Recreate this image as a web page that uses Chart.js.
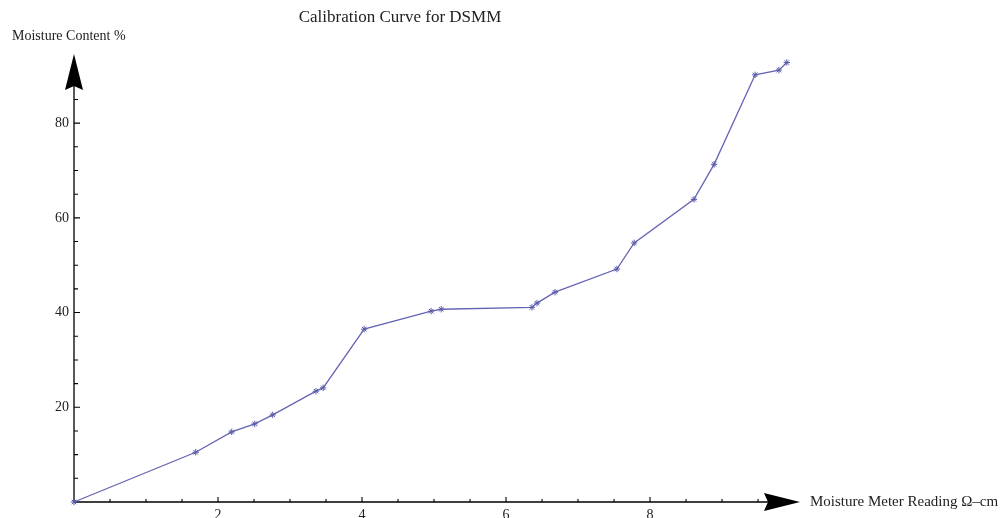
<!DOCTYPE html>
<html>
<head>
<meta charset="utf-8">
<script src="https://cdn.jsdelivr.net/npm/chart.js@4"></script>
<style>
  html, body { margin: 0; padding: 0; background: #ffffff; }
  #wrap { width: 1005px; height: 518px; position: relative; }
</style>
</head>
<body>
<div id="wrap"><canvas id="c" width="1005" height="518"></canvas></div>
<script>
// ---- data ----
const meterReading = [0, 1.69, 2.19, 2.51, 2.76, 3.36, 3.46, 4.03, 4.96, 5.10, 6.36, 6.43, 6.68, 7.54, 7.78, 8.61, 8.89, 9.46, 9.79, 9.90];
const moistureContent = [0, 10.5, 14.8, 16.5, 18.4, 23.4, 24.1, 36.5, 40.3, 40.7, 41.1, 42.0, 44.3, 49.2, 54.7, 63.9, 71.3, 90.2, 91.2, 92.8];
const xTickLabels = [2, 4, 6, 8];
const yTickLabels = [20, 40, 60, 80];
const titleText = "Calibration Curve for DSMM";
const xAxisTitle = "Moisture Meter Reading \u03A9\u2013cm";
const yAxisTitle = "Moisture Content %";

const points = meterReading.map((x, i) => ({ x: x, y: moistureContent[i] }));
const serif = "'Liberation Serif', 'Times New Roman', serif";

const axesPlugin = {
  id: 'mathAxes',
  beforeDatasetsDraw(chart) {
    const ctx = chart.ctx;
    const xs = chart.scales.x, ys = chart.scales.y;
    const x0 = xs.getPixelForValue(0), y0 = ys.getPixelForValue(0);
    const xEnd = xs.getPixelForValue(xs.max), yEnd = ys.getPixelForValue(ys.max);
    ctx.save();
    ctx.strokeStyle = '#000';
    ctx.fillStyle = '#000';
    ctx.lineWidth = 1.3;
    // axis lines
    ctx.beginPath();
    ctx.moveTo(x0, y0); ctx.lineTo(xEnd - 30, y0);
    ctx.moveTo(x0, y0); ctx.lineTo(x0, yEnd + 30);
    ctx.stroke();
    // ticks
    ctx.lineWidth = 1.1;
    ctx.beginPath();
    for (let v = 5; v <= 85; v += 5) {
      const p = ys.getPixelForValue(v);
      const len = (v % 20 === 0) ? 6 : 4;
      ctx.moveTo(x0, p); ctx.lineTo(x0 + len, p);
    }
    for (let v = 0.5; v <= 9.5; v += 0.5) {
      const p = xs.getPixelForValue(v);
      const len = (v % 2 === 0) ? 5 : 3;
      ctx.moveTo(p, y0); ctx.lineTo(p, y0 - len);
    }
    ctx.stroke();
    // arrows
    ctx.beginPath();
    ctx.moveTo(xEnd, y0);
    ctx.lineTo(xEnd - 36, y0 - 9);
    ctx.lineTo(xEnd - 32, y0);
    ctx.lineTo(xEnd - 36, y0 + 9);
    ctx.closePath();
    ctx.fill();
    ctx.beginPath();
    ctx.moveTo(x0, yEnd);
    ctx.lineTo(x0 - 9, yEnd + 36);
    ctx.lineTo(x0, yEnd + 32);
    ctx.lineTo(x0 + 9, yEnd + 36);
    ctx.closePath();
    ctx.fill();
    // texts
    ctx.fillStyle = '#222';
    ctx.textBaseline = 'alphabetic';
    ctx.font = '17px ' + serif;
    ctx.textAlign = 'center';
    ctx.fillText(titleText, 400, 22);
    ctx.font = '14px ' + serif;
    ctx.textAlign = 'left';
    ctx.fillText(yAxisTitle, 12, 40);
    ctx.font = '15px ' + serif;
    ctx.fillText(xAxisTitle, 810, 506);
    ctx.restore();
  }
};

new Chart(document.getElementById('c'), {
  type: 'scatter',
  data: {
    datasets: [{
      data: points,
      showLine: true,
      borderColor: '#6464b4',
      borderWidth: 1.3,
      pointStyle: 'star',
      pointRadius: 3.2,
      pointBorderWidth: 1,
      pointBorderColor: '#5a5aaa',
      pointBackgroundColor: '#5a5aaa',
      tension: 0,
      clip: false
    }]
  },
  options: {
    responsive: false,
    animation: false,
    events: [],
    layout: { padding: { left: 0, right: 205, top: 54, bottom: 0 } },
    plugins: { legend: { display: false }, tooltip: { enabled: false }, title: { display: false } },
    scales: {
      x: {
        type: 'linear', min: 0, max: 10.083,
        grid: { display: false, drawTicks: false },
        border: { display: false },
        ticks: {
          stepSize: 2, padding: 5, maxRotation: 0, autoSkip: false,
          color: '#222', font: { family: serif, size: 14 },
          callback: v => xTickLabels.includes(v) ? String(v) : ''
        },
        afterFit: s => { s.height = 16; }
      },
      y: {
        type: 'linear', min: 0, max: 94.6,
        grid: { display: false, drawTicks: false },
        border: { display: false },
        ticks: {
          stepSize: 20, padding: 5, autoSkip: false,
          color: '#222', font: { family: serif, size: 14 },
          callback: v => yTickLabels.includes(v) ? String(v) : ''
        },
        afterFit: s => { s.width = 74; }
      }
    }
  },
  plugins: [axesPlugin]
});
</script>
</body>
</html>
